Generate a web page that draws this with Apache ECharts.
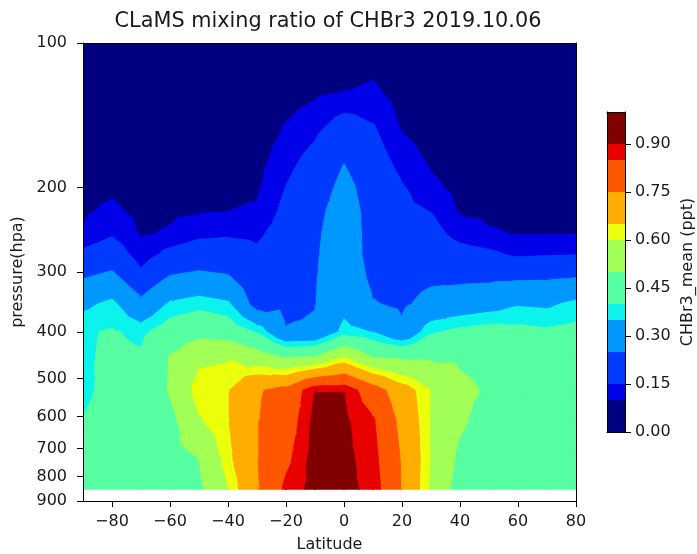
<!DOCTYPE html>
<html>
<head>
<meta charset="utf-8">
<script src="https://cdn.jsdelivr.net/npm/echarts@6/dist/echarts.min.js"></script>
<style>
  html, body { margin: 0; padding: 0; background: #ffffff; }
  #chart { width: 697px; height: 554px; }
</style>
</head>
<body>
<div id="chart"></div>
<script>
// Latitude / pressure grid of CLaMS CHBr3 mean mixing ratio (ppt)
const latitudes = [-90, -80, -70, -60, -50, -40, -30, -20, -10, 0, 10, 20, 30, 40, 50, 60, 70, 80];
const pressureLevels = [100, 125, 150, 175, 200, 225, 250, 275, 300, 350, 400, 450, 530, 610, 730, 850];

// one row of values per pressure level, ordered by latitude
const chbr3At100 = [0.03, 0.03, 0.03, 0.03, 0.03, 0.03, 0.03, 0.04, 0.05, 0.06, 0.065, 0.05, 0.04, 0.03, 0.03, 0.03, 0.03, 0.03];
const chbr3At125 = [0.048, 0.05, 0.046, 0.047, 0.048, 0.049, 0.05, 0.075, 0.086, 0.096, 0.108, 0.075, 0.06, 0.048, 0.047, 0.046, 0.046, 0.046];
const chbr3At150 = [0.062, 0.066, 0.059, 0.061, 0.064, 0.065, 0.066, 0.104, 0.134, 0.181, 0.155, 0.095, 0.077, 0.062, 0.061, 0.06, 0.06, 0.06];
const chbr3At175 = [0.074, 0.08, 0.07, 0.073, 0.076, 0.078, 0.08, 0.13, 0.171, 0.245, 0.183, 0.126, 0.091, 0.075, 0.073, 0.071, 0.071, 0.072];
const chbr3At200 = [0.085, 0.092, 0.079, 0.083, 0.087, 0.09, 0.092, 0.151, 0.197, 0.277, 0.207, 0.155, 0.111, 0.085, 0.083, 0.081, 0.081, 0.082];
const chbr3At225 = [0.094, 0.109, 0.088, 0.092, 0.097, 0.10, 0.106, 0.168, 0.22, 0.30, 0.21, 0.167, 0.149, 0.095, 0.092, 0.09, 0.09, 0.091];
const chbr3At250 = [0.103, 0.142, 0.095, 0.105, 0.134, 0.141, 0.137, 0.184, 0.232, 0.31, 0.21, 0.18, 0.176, 0.126, 0.104, 0.098, 0.098, 0.099];
const chbr3At275 = [0.166, 0.196, 0.115, 0.169, 0.193, 0.19, 0.163, 0.198, 0.238, 0.31, 0.212, 0.19, 0.20, 0.177, 0.162, 0.136, 0.141, 0.144];
const chbr3At300 = [0.226, 0.254, 0.159, 0.236, 0.254, 0.239, 0.187, 0.21, 0.242, 0.314, 0.225, 0.21, 0.223, 0.217, 0.215, 0.215, 0.218, 0.224];
const chbr3At350 = [0.333, 0.366, 0.274, 0.359, 0.38, 0.36, 0.21, 0.232, 0.247, 0.325, 0.255, 0.235, 0.28, 0.298, 0.316, 0.343, 0.337, 0.366];
const chbr3At400 = [0.392, 0.406, 0.384, 0.44, 0.465, 0.448, 0.393, 0.255, 0.26, 0.37, 0.347, 0.27, 0.39, 0.417, 0.43, 0.42, 0.41, 0.42];
const chbr3At450 = [0.387, 0.416, 0.409, 0.503, 0.581, 0.59, 0.54, 0.483, 0.496, 0.59, 0.49, 0.48, 0.483, 0.486, 0.47, 0.44, 0.43, 0.44];
const chbr3At530 = [0.38, 0.43, 0.424, 0.507, 0.63, 0.645, 0.74, 0.78, 0.899, 0.899, 0.796, 0.69, 0.6, 0.52, 0.491, 0.45, 0.44, 0.445];
const chbr3At610 = [0.402, 0.441, 0.438, 0.47, 0.592, 0.645, 0.745, 0.80, 0.916, 0.91, 0.857, 0.72, 0.595, 0.515, 0.46, 0.45, 0.445, 0.445];
const chbr3At730 = [0.432, 0.457, 0.456, 0.474, 0.502, 0.63, 0.745, 0.83, 0.922, 0.915, 0.873, 0.74, 0.595, 0.48, 0.45, 0.445, 0.44, 0.44];
const chbr3At850 = [0.45, 0.47, 0.47, 0.46, 0.48, 0.595, 0.74, 0.865, 0.92, 0.915, 0.885, 0.745, 0.585, 0.456, 0.445, 0.44, 0.44, 0.44];

const mixingRatio = [chbr3At100, chbr3At125, chbr3At150, chbr3At175, chbr3At200, chbr3At225, chbr3At250,
  chbr3At275, chbr3At300, chbr3At350, chbr3At400, chbr3At450, chbr3At530, chbr3At610, chbr3At730, chbr3At850];

// filled-contour boundaries and tick values
const contourLevels = [0, 0.10, 0.15, 0.25, 0.35, 0.40, 0.50, 0.60, 0.65, 0.75, 0.85, 0.90, 1.0];
const latitudeTicks = [-80, -60, -40, -20, 0, 20, 40, 60, 80];
const pressureTicks = [100, 200, 300, 400, 500, 600, 700, 800, 900];
const colorbarTicks = [0, 0.15, 0.30, 0.45, 0.60, 0.75, 0.90];

// matplotlib "jet" colormap
const jetSegments = {
  r: [[0, 0], [0.35, 0], [0.66, 1], [0.89, 1], [1, 0.5]],
  g: [[0, 0], [0.125, 0], [0.375, 1], [0.64, 1], [0.91, 0], [1, 0]],
  b: [[0, 0.5], [0.11, 1], [0.34, 1], [0.65, 0], [1, 0]]
};
function segmentValue(pts, t) {
  for (let k = 1; k < pts.length; k++) {
    if (t <= pts[k][0]) {
      const [x0, y0] = pts[k - 1], [x1, y1] = pts[k];
      return y0 + (y1 - y0) * (t - x0) / (x1 - x0);
    }
  }
  return pts[pts.length - 1][1];
}
function jet(t) {
  const c = ['r', 'g', 'b'].map(ch => Math.round(255 * segmentValue(jetSegments[ch], t)));
  return 'rgb(' + c.join(',') + ')';
}
const bandCount = contourLevels.length - 1;
const bandColors = [];
for (let k = 0; k < bandCount; k++) bandColors.push(jet(k / (bandCount - 1)));

// clip a polygon of [x, y, value] vertices against a value threshold
function clipByValue(poly, level, keepAbove) {
  const out = [];
  for (let k = 0; k < poly.length; k++) {
    const a = poly[k], b = poly[(k + 1) % poly.length];
    const inA = keepAbove ? a[2] >= level : a[2] <= level;
    const inB = keepAbove ? b[2] >= level : b[2] <= level;
    if (inA) out.push(a);
    if (inA !== inB) {
      const t = (level - a[2]) / (b[2] - a[2]);
      out.push([a[0] + t * (b[0] - a[0]), a[1] + t * (b[1] - a[1]), level]);
    }
  }
  return out;
}

// one item per grid cell; y is log10(pressure) so the axis is logarithmic
const cells = [];
for (let j = 0; j < pressureLevels.length - 1; j++) {
  for (let i = 0; i < latitudes.length - 1; i++) {
    cells.push([latitudes[i], Math.log10(pressureLevels[j]), i, j]);
  }
}

// lowest band fills the whole data area once; higher bands are laid over it per cell
function renderLowestBand(params, api) {
  const p0 = api.coord([latitudes[0], Math.log10(pressureLevels[0])]);
  const p1 = api.coord([latitudes[latitudes.length - 1], Math.log10(pressureLevels[pressureLevels.length - 1])]);
  return {
    type: 'rect',
    silent: true,
    shape: { x: p0[0], y: p0[1], width: p1[0] - p0[0], height: p1[1] - p0[1] },
    style: { fill: bandColors[0] }
  };
}

function renderCell(params, api) {
  const i = api.value(2), j = api.value(3);
  const corner = (ii, jj) => [latitudes[ii], Math.log10(pressureLevels[jj]), mixingRatio[jj][ii]];
  const c00 = corner(i, j), c10 = corner(i + 1, j), c11 = corner(i + 1, j + 1), c01 = corner(i, j + 1);
  const centre = [(c00[0] + c10[0]) / 2, (c00[1] + c01[1]) / 2, (c00[2] + c10[2] + c11[2] + c01[2]) / 4];
  const triangles = [[c00, c10, centre], [c10, c11, centre], [c11, c01, centre], [c01, c00, centre]];
  const children = [];
  triangles.forEach(tri => {
    for (let k = 1; k < bandCount; k++) {
      let poly = clipByValue(tri, contourLevels[k], true);
      if (k < bandCount - 1) poly = clipByValue(poly, contourLevels[k + 1], false);
      if (poly.length < 3) continue;
      children.push({
        type: 'polygon',
        silent: true,
        shape: { points: poly.map(p => api.coord([p[0], p[1]])) },
        style: { fill: bandColors[k], stroke: bandColors[k], lineWidth: 1.5, lineJoin: 'round' }
      });
    }
  });
  return { type: 'group', children };
}

function renderColorbarBand(params, api) {
  const k = api.value(2);
  const topLeft = api.coord([0, contourLevels[k + 1]]);
  const bottomRight = api.coord([1, contourLevels[k]]);
  return {
    type: 'rect',
    silent: true,
    shape: { x: topLeft[0], y: topLeft[1], width: bottomRight[0] - topLeft[0], height: bottomRight[1] - topLeft[1] },
    style: { fill: bandColors[k] }
  };
}

const font = 'DejaVu Sans';
const textColor = '#1a1a1a';
const frameLine = { show: true, onZero: false, lineStyle: { color: '#000', width: 1 } };
const noTicks = { show: false };
const tickFont = 16;

const chart = echarts.init(document.getElementById('chart'), null, { renderer: 'canvas' });
chart.setOption({
  animation: false,
  backgroundColor: '#ffffff',
  graphic: [{
    type: 'text',
    x: 328,
    y: 22,
    style: {
      text: 'CLaMS mixing ratio of CHBr3 2019.10.06',
      font: '20.8px "' + font + '"',
      fill: textColor,
      textAlign: 'center',
      textVerticalAlign: 'middle'
    }
  }],
  grid: [
    { left: 83, top: 43, width: 493, height: 458, containLabel: false, outerBoundsMode: 'none' },
    { left: 607, top: 112, width: 18, height: 320, containLabel: false, outerBoundsMode: 'none' }
  ],
  xAxis: [
    {
      gridIndex: 0, type: 'value', min: -90, max: 80, position: 'bottom', z: 10,
      axisLine: frameLine,
      axisTick: { show: true, length: 6, customValues: latitudeTicks, lineStyle: { color: '#000' } },
      axisLabel: {
        customValues: latitudeTicks, margin: 13, color: textColor, fontSize: tickFont, fontFamily: font,
        formatter: v => (v < 0 ? '\u2212' + Math.abs(v) : String(v))
      },
      splitLine: { show: false },
      name: 'Latitude', nameLocation: 'middle', nameGap: 36,
      nameTextStyle: { fontSize: 16, fontFamily: font, color: textColor }
    },
    {
      gridIndex: 0, type: 'value', min: -90, max: 80, position: 'top', z: 10,
      axisLine: frameLine, axisTick: noTicks, axisLabel: { show: false }, splitLine: { show: false }
    },
    {
      gridIndex: 1, type: 'value', min: 0, max: 1, position: 'bottom', z: 10,
      axisLine: frameLine, axisTick: noTicks, axisLabel: { show: false }, splitLine: { show: false }
    },
    {
      gridIndex: 1, type: 'value', min: 0, max: 1, position: 'top', z: 10,
      axisLine: frameLine, axisTick: noTicks, axisLabel: { show: false }, splitLine: { show: false }
    }
  ],
  yAxis: [
    {
      gridIndex: 0, type: 'value', inverse: true, position: 'left', z: 10,
      min: Math.log10(pressureTicks[0]), max: Math.log10(pressureTicks[pressureTicks.length - 1]),
      axisLine: frameLine,
      axisTick: { show: true, length: 6, customValues: pressureTicks.map(Math.log10), lineStyle: { color: '#000' } },
      axisLabel: {
        customValues: pressureTicks.map(Math.log10), margin: 16, color: textColor, fontSize: tickFont, fontFamily: font,
        formatter: v => String(Math.round(Math.pow(10, v)))
      },
      splitLine: { show: false },
      name: 'pressure(hpa)', nameLocation: 'middle', nameGap: 51, nameRotate: 90,
      nameTextStyle: { fontSize: 16, fontFamily: font, color: textColor }
    },
    {
      gridIndex: 0, type: 'value', inverse: true, position: 'right', z: 10,
      min: Math.log10(pressureTicks[0]), max: Math.log10(pressureTicks[pressureTicks.length - 1]),
      axisLine: frameLine, axisTick: noTicks, axisLabel: { show: false }, splitLine: { show: false }
    },
    {
      gridIndex: 1, type: 'value', min: 0, max: 1, position: 'right', z: 10,
      axisLine: frameLine,
      axisTick: { show: true, length: 6, customValues: colorbarTicks, lineStyle: { color: '#000' } },
      axisLabel: {
        customValues: colorbarTicks, margin: 10, color: textColor, fontSize: tickFont, fontFamily: font,
        formatter: v => v.toFixed(2)
      },
      splitLine: { show: false },
      name: 'CHBr3_mean (ppt)', nameLocation: 'middle', nameGap: 55, nameRotate: 90,
      nameTextStyle: { fontSize: 16, fontFamily: font, color: textColor }
    },
    {
      gridIndex: 1, type: 'value', min: 0, max: 1, position: 'left', z: 10,
      axisLine: frameLine, axisTick: noTicks, axisLabel: { show: false }, splitLine: { show: false }
    }
  ],
  series: [
    {
      type: 'custom',
      name: 'CHBr3 lowest band',
      xAxisIndex: 0, yAxisIndex: 0,
      clip: true,
      z: 1,
      renderItem: renderLowestBand,
      encode: { x: 0, y: 1 },
      data: [[latitudes[0], Math.log10(pressureLevels[0])]]
    },
    {
      type: 'custom',
      name: 'CHBr3 mean',
      xAxisIndex: 0, yAxisIndex: 0,
      clip: true,
      z: 2,
      renderItem: renderCell,
      encode: { x: 0, y: 1 },
      data: cells
    },
    {
      type: 'custom',
      name: 'colorbar',
      xAxisIndex: 2, yAxisIndex: 2,
      clip: true,
      z: 2,
      renderItem: renderColorbarBand,
      encode: { x: 0, y: 1 },
      data: bandColors.map((c, k) => [0, contourLevels[k], k])
    }
  ]
});
</script>
</body>
</html>
